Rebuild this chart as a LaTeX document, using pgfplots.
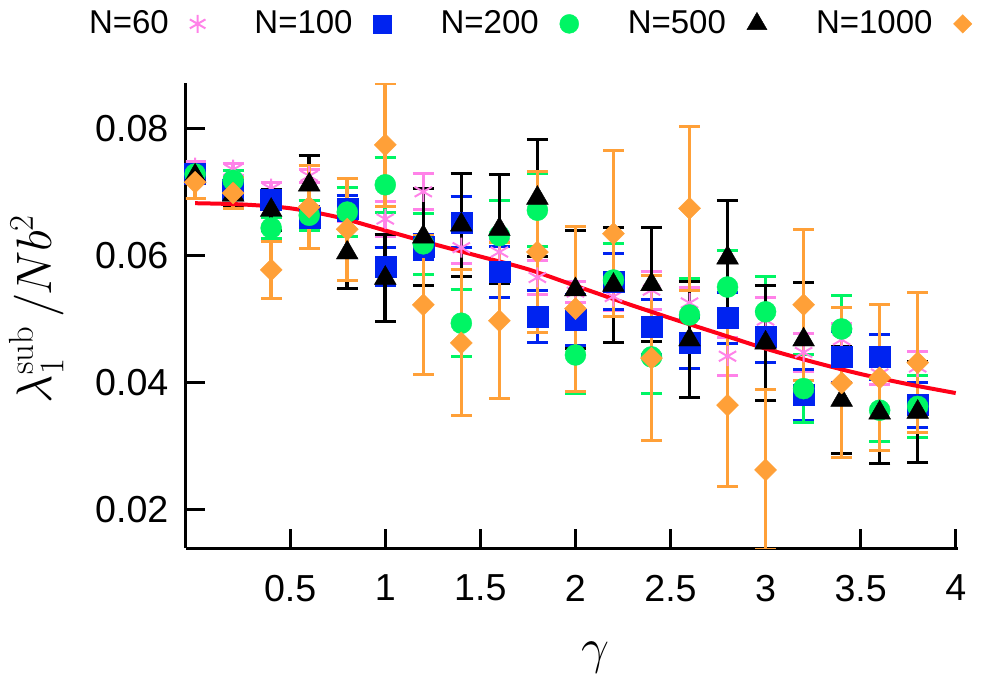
\documentclass[border=0pt]{standalone}
\usepackage[no-math]{fontspec}
\usepackage{pgfplots}
\pgfplotsset{compat=1.18}
\setmainfont{Liberation Sans}
\definecolor{cpink}{RGB}{255,130,232}
\definecolor{cblue}{RGB}{0,35,240}
\definecolor{cgreen}{RGB}{0,245,100}
\definecolor{corange}{RGB}{255,160,56}
\definecolor{cred}{RGB}{255,0,24}
\pgfdeclareplotmark{sqdiamond*}{%
  \pgfpathmoveto{\pgfqpoint{0pt}{\pgfplotmarksize}}%
  \pgfpathlineto{\pgfqpoint{\pgfplotmarksize}{0pt}}%
  \pgfpathlineto{\pgfqpoint{0pt}{-\pgfplotmarksize}}%
  \pgfpathlineto{\pgfqpoint{-\pgfplotmarksize}{0pt}}%
  \pgfpathclose\pgfusepathqfillstroke}
\pgfplotsset{
  legimg/.style={legend image code/.code={\draw[##1, mark size=#1] plot coordinates {(0pt,0pt)};}},
}

\pgfplotstableread{
x y e
0.0 0.0738 0.0010
0.2 0.0735 0.0010
0.4 0.0705 0.0010
0.6 0.0725 0.0010
0.8 0.0668 0.0015
1.0 0.0657 0.0028
1.2 0.0700 0.0028
1.4 0.0612 0.0025
1.6 0.0605 0.0020
1.8 0.0565 0.0026
2.0 0.0542 0.0017
2.2 0.0535 0.0022
2.4 0.0545 0.0030
2.6 0.0525 0.0025
2.8 0.0441 0.0030
3.0 0.0498 0.0035
3.2 0.0447 0.0030
3.4 0.0467 0.0025
3.6 0.0413 0.0016
3.8 0.0424 0.0025
}\tabA
\pgfplotstableread{
x y e
0.0 0.0728 0.0010
0.2 0.0703 0.0012
0.4 0.0687 0.0015
0.6 0.0659 0.0018
0.8 0.0674 0.0020
1.0 0.0582 0.0030
1.2 0.0613 0.0020
1.4 0.0652 0.0040
1.6 0.0574 0.0040
1.8 0.0504 0.0041
2.0 0.0498 0.0040
2.2 0.0559 0.0044
2.4 0.0487 0.0043
2.6 0.0462 0.0040
2.8 0.0501 0.0040
3.0 0.0471 0.0040
3.2 0.0380 0.0040
3.4 0.0440 0.0040
3.6 0.0440 0.0036
3.8 0.0364 0.0036
}\tabB
\pgfplotstableread{
x y e
0.0 0.0728 0.0012
0.2 0.0718 0.0015
0.4 0.0643 0.0016
0.6 0.0663 0.0024
0.8 0.0668 0.0038
1.0 0.0711 0.0043
1.2 0.0618 0.0048
1.4 0.0493 0.0053
1.6 0.0631 0.0055
1.8 0.0671 0.0057
2.0 0.0443 0.0060
2.2 0.0561 0.0058
2.4 0.0440 0.0057
2.6 0.0506 0.0057
2.8 0.0550 0.0057
3.0 0.0511 0.0056
3.2 0.0390 0.0054
3.4 0.0484 0.0053
3.6 0.0356 0.0050
3.8 0.0362 0.0049
}\tabC
\pgfplotstableread{
x y e
0.0 0.0725 0.0010
0.2 0.0695 0.0019
0.4 0.0671 0.0032
0.6 0.0711 0.0046
0.8 0.0604 0.0057
1.0 0.0564 0.0068
1.2 0.0629 0.0076
1.4 0.0648 0.0081
1.6 0.0641 0.0086
1.8 0.0690 0.0092
2.0 0.0546 0.0093
2.2 0.0553 0.0091
2.4 0.0554 0.0090
2.6 0.0467 0.0091
2.8 0.0596 0.0090
3.0 0.0462 0.0091
3.2 0.0467 0.0090
3.4 0.0372 0.0084
3.6 0.0352 0.0080
3.8 0.0353 0.0080
}\tabD
\pgfplotstableread{
x y e
0.0 0.0715 0.0025
0.2 0.0698 0.0025
0.4 0.0577 0.0045
0.6 0.0676 0.0065
0.8 0.0641 0.0080
1.0 0.0774 0.0097
1.2 0.0522 0.0109
1.4 0.0462 0.0115
1.6 0.0497 0.0123
1.8 0.0605 0.0127
2.0 0.0516 0.0130
2.2 0.0634 0.0131
2.4 0.0438 0.0130
2.6 0.0674 0.0129
2.8 0.0364 0.0128
3.0 0.0262 0.0126
3.2 0.0522 0.0119
3.4 0.0399 0.0118
3.6 0.0407 0.0115
3.8 0.0431 0.0110
}\tabE

\begin{document}
\begin{tikzpicture}
\useasboundingbox (-93pt,-71.5pt) rectangle (405pt,274pt);
\begin{axis}[
  at={(0,0)}, anchor=south west,
  scale only axis, width=386pt, height=232.4pt,
  xmin=-0.048, xmax=4.012, ymin=0.0139, ymax=0.0871,
  scaled y ticks=false, scaled x ticks=false,
  axis x line*=bottom, axis y line*=left,
  axis line style={line width=1.5pt,-},
  tick align=inside, major tick length=9.5pt,
  tick style={line width=1.5pt,black},
  xtick={0.5,1,1.5,2,2.5,3,3.5,4},
  xticklabels={0.5,1,1.5,2,2.5,3,3.5,4},
  ytick={0.02,0.04,0.06,0.08},
  yticklabels={0.02,0.04,0.06,0.08},
  ticklabel style={font=\fontsize{18.8}{22}\selectfont},
  xticklabel style={yshift=-10pt},
  yticklabel style={xshift=-5.3pt},
  xlabel={$\gamma$},
  ylabel={$\lambda_1^{\mathrm{sub}}\,/Nb^2$},
  xlabel style={font=\fontsize{35}{40}\selectfont, at={(axis description cs:0.530,-0.235)}, anchor=center},
  ylabel style={font=\fontsize{25}{30}\selectfont, at={(axis description cs:-0.194,0.515)}, anchor=center},
  error bars/error mark=|,
  error bars/error bar style={line width=1.8pt},
  error bars/error mark options={line width=1.5pt, mark size=5.3pt},
  legend plot pos=right,
  legend cell align=left,
  legend style={at={(axis description cs:-0.1256,1.1276)}, anchor=west,
    draw=none, fill=none, inner sep=0pt, outer sep=0pt, legend columns=5,
    font=\fontsize{16.5}{19}\selectfont,
    nodes={inner sep=0pt},
    /tikz/every odd column/.append style={column sep=10.5pt},
    /tikz/every even column/.append style={column sep=24.5pt}},
]
\addplot[only marks, cpink, mark=asterisk, mark size=5pt, line width=1pt, legimg=4.5pt,
  error bars/.cd, y dir=both, y explicit]
  table[x=x, y=y, y error=e] {\tabA};
\addlegendentry{N=60}
\addplot[only marks, cblue, mark=square*, mark size=5.25pt, line width=0.2pt, legimg=4.5pt,
  error bars/.cd, y dir=both, y explicit]
  table[x=x, y=y, y error=e] {\tabB};
\addlegendentry{N=100}
\addplot[only marks, cgreen, mark=*, mark size=5.25pt, line width=0.2pt, legimg=4.75pt,
  error bars/.cd, y dir=both, y explicit]
  table[x=x, y=y, y error=e] {\tabC};
\addlegendentry{N=200}
\addplot[only marks, black, mark=triangle*, mark size=6.3pt, line width=0.2pt, legimg=5.8pt,
  error bars/.cd, y dir=both, y explicit]
  table[x=x, y=y, y error=e] {\tabD};
\addlegendentry{N=500}
\addplot[only marks, corange, mark=sqdiamond*, mark size=5.5pt, line width=0.2pt, legimg=4.6pt,
  error bars/.cd, y dir=both, y explicit]
  table[x=x, y=y, y error=e] {\tabE};
\addlegendentry{N=1000}
\addplot[cred, line width=2pt, no marks, smooth, forget plot] coordinates {
  (0.00,0.0682) (0.25,0.0680) (0.50,0.0674) (0.75,0.0660) (1.00,0.0639)
  (1.25,0.0618) (1.50,0.0598) (1.75,0.0578) (2.00,0.0552) (2.25,0.0526)
  (2.50,0.0501) (2.75,0.0477) (3.00,0.0453) (3.25,0.0432) (3.50,0.0413)
  (3.75,0.0397) (4.00,0.0383)
};
\end{axis}
\end{tikzpicture}
\end{document}
